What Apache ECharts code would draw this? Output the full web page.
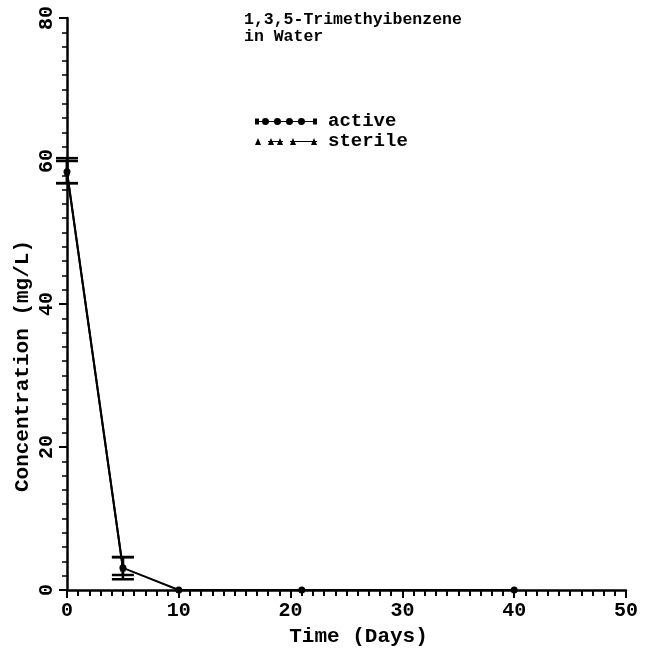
<!DOCTYPE html>
<html><head><meta charset="utf-8">
<script src="https://cdn.jsdelivr.net/npm/echarts@6/dist/echarts.min.js"></script>
<style>html,body{margin:0;padding:0;background:#fff}#c{width:649px;height:654px}</style>
</head><body><div id="c"></div>
<script>
// Data
const activeX = [0, 5, 10, 21, 40];
const activeY = [58.5, 3.1, 0, 0, 0];
const activeErrX = [0, 5];
const activeErrLow = [56.9, 2.1];
const activeErrHigh = [60.4, 4.6];
const sterileX = [0, 5];
const sterileY = [58.4, 3.0];
const sterileErrLow = [56.9, 1.5];
const sterileErrHigh = [60.0, 4.6];
const xTicks = [0, 10, 20, 30, 40, 50];
const yTicks = [0, 20, 40, 60, 80];
const titleText = '1,3,5-Trimethyibenzene\nin Water';
const xName = 'Time (Days)';
const yName = 'Concentration (mg/L)';

const F = '"Liberation Mono", "DejaVu Sans Mono", monospace';
const chart = echarts.init(document.getElementById('c'));

function errSeries(xs, lo, hi, name) {
  return {
    type: 'custom', name: name + '_err', silent: true, z: 5,
    data: xs.map((x, i) => [x, lo[i], hi[i]]),
    renderItem: function (params, api) {
      const x = api.value(0);
      const p1 = api.coord([x, api.value(1)]);
      const p2 = api.coord([x, api.value(2)]);
      const w = 11;
      const st = { stroke: '#000', lineWidth: 2.5 };
      return { type: 'group', children: [
        { type: 'line', shape: { x1: p1[0], y1: p1[1], x2: p2[0], y2: p2[1] }, style: st },
        { type: 'line', shape: { x1: p1[0] - w, y1: p1[1], x2: p1[0] + w, y2: p1[1] }, style: st },
        { type: 'line', shape: { x1: p2[0] - w, y1: p2[1], x2: p2[0] + w, y2: p2[1] }, style: st }
      ]};
    }
  };
}

const activeIcon = 'path://M0,4L62,4L62,5L0,5Z M0,1.5L4,1.5L4,7.5L0,7.5Z M14,4.5A3.5,3.5 0 1 1 14,4.49Z M26,4.5A3.5,3.5 0 1 1 26,4.49Z M38,4.5A3.5,3.5 0 1 1 38,4.49Z M50,4.5A3.5,3.5 0 1 1 50,4.49Z M58,1.5L62,1.5L62,7.5L58,7.5Z';
const sterileIcon = 'path://M0,8L3,1L6,8Z M13,4L28,4L28,5L13,5Z M13,8L16,1L19,8Z M22,8L25,1L28,8Z M35,4L62,4L62,5L35,5Z M35,8L38,1L41,8Z M56,8L59,1L62,8Z';

chart.setOption({
  animation: false,
  backgroundColor: '#fff',
  textStyle: { fontFamily: F, color: '#000' },
  title: {
    text: titleText,
    left: 244, top: 11, padding: 0,
    textStyle: { fontFamily: F, fontSize: 16.5, fontWeight: 'bold', color: '#000', lineHeight: 17 }
  },
  legend: {
    left: 255, top: 112, orient: 'vertical', itemGap: 1, padding: 0,
    itemWidth: 62, itemHeight: 8,
    textStyle: { fontFamily: F, fontSize: 19, fontWeight: 'bold', color: '#000', padding: [0, 0, 0, 6] },
    data: [
      { name: 'active', icon: activeIcon, itemStyle: { color: '#000' } },
      { name: 'sterile', icon: sterileIcon, itemStyle: { color: '#000' } }
    ]
  },
  graphic: [{
    type: 'text', left: 12, top: 240, rotation: Math.PI / 2,
    style: { text: yName, font: 'bold 21px ' + F, fill: '#000' }
  }],
  grid: { left: 67, right: 23, top: 18, bottom: 64 },
  xAxis: {
    type: 'value', min: 0, max: 50, interval: 10,
    name: xName, nameLocation: 'middle', nameGap: 31,
    nameTextStyle: { fontFamily: F, fontSize: 21, fontWeight: 'bold', color: '#000', padding: [0, 0, 0, 24] },
    axisLine: { show: true, lineStyle: { color: '#000', width: 2.5 } },
    axisTick: { show: true, length: 8, inside: false, lineStyle: { color: '#000', width: 2 } },
    minorTick: { show: true, splitNumber: 10, length: 6, lineStyle: { color: '#000', width: 2 } },
    splitLine: { show: false },
    axisLabel: { fontFamily: F, fontSize: 20, fontWeight: 'bold', color: '#000', margin: 11,
      formatter: v => xTicks.includes(v) ? String(v) : '' }
  },
  yAxis: {
    type: 'value', min: 0, max: 80, interval: 20,
    axisLine: { show: true, lineStyle: { color: '#000', width: 2.5 } },
    axisTick: { show: true, length: 8, inside: false, lineStyle: { color: '#000', width: 2 } },
    minorTick: { show: true, splitNumber: 10, length: 5, lineStyle: { color: '#000', width: 1.5 } },
    splitLine: { show: false },
    axisLabel: { fontFamily: F, fontSize: 20, fontWeight: 'bold', color: '#000', rotate: 90, margin: 10,
      formatter: v => yTicks.includes(v) ? String(v) : '' }
  },
  series: [
    {
      name: 'sterile', type: 'line', z: 3,
      data: sterileX.map((x, i) => [x, sterileY[i]]),
      symbol: 'triangle', symbolSize: 6,
      lineStyle: { color: '#000', width: 2 }, itemStyle: { color: '#000' }
    },
    {
      name: 'active', type: 'line', z: 4,
      data: activeX.map((x, i) => [x, activeY[i]]),
      symbol: 'circle', symbolSize: 7,
      lineStyle: { color: '#000', width: 2 }, itemStyle: { color: '#000' }
    },
    errSeries(activeErrX, activeErrLow, activeErrHigh, 'active'),
    errSeries(sterileX, sterileErrLow, sterileErrHigh, 'sterile')
  ]
});
</script></body></html>
